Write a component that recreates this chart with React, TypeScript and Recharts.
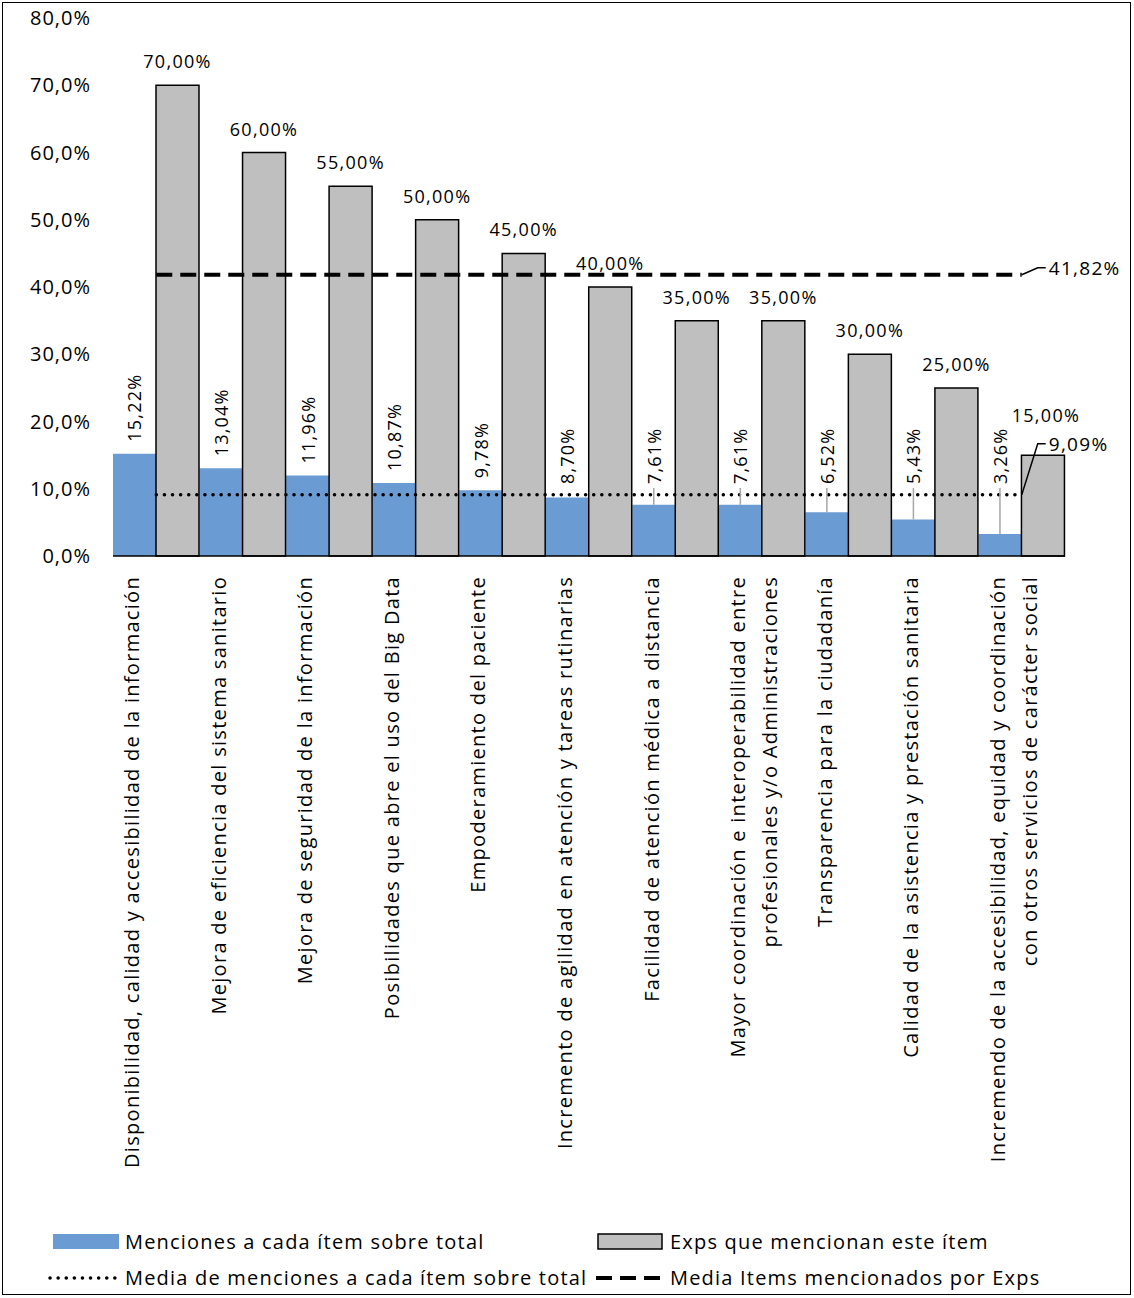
import { ComposedChart, Bar, Line, XAxis, YAxis, LabelList } from "recharts";

const categories: string[][] = [
  ["Disponibilidad, calidad  y accesibilidad de la información"],
  ["Mejora de eficiencia del sistema sanitario"],
  ["Mejora de seguridad de la información"],
  ["Posibilidades que abre el uso del Big Data"],
  ["Empoderamiento del paciente"],
  ["Incremento de  agilidad en atención y tareas rutinarias"],
  ["Facilidad de atención médica a distancia"],
  ["Mayor coordinación e interoperabilidad entre", "profesionales y/o Administraciones"],
  ["Transparencia para la ciudadanía"],
  ["Calidad de la asistencia y prestación sanitaria"],
  ["Incremendo de la accesibilidad, equidad y coordinación", "con otros servicios de carácter social"],
];
const menciones = [15.22, 13.04, 11.96, 10.87, 9.78, 8.7, 7.61, 7.61, 6.52, 5.43, 3.26];
const exps = [70, 60, 55, 50, 45, 40, 35, 35, 30, 25, 15];
const mediaMenciones = 9.09;
const mediaExps = 41.82;
const yTicks = [0, 10, 20, 30, 40, 50, 60, 70, 80];

const data = categories.map((c, i) => ({
  name: c.join(" "),
  idx: i,
  menciones: menciones[i],
  exps: exps[i],
  mediaMenciones,
  mediaExps,
}));

const FONT = "'Open Sans', 'Noto Sans', sans-serif";
const fmt = (v: number, d: number) => v.toFixed(d).replace(".", ",");

const CatTick = (props: any) => {
  const { x, y, payload } = props;
  const lines = categories[payload.index] ?? [payload.value];
  const lh = 32;
  const x0 = x - 17;
  return (
    <text transform={`rotate(-90, ${x0}, ${y + 12})`} x={x0} y={y + 12} textAnchor="end" fontSize={20} letterSpacing={1.3} fontFamily={FONT} fill="#000">
      {lines.map((l, i) => (
        <tspan key={i} x={x0} dy={i === 0 ? 0 : lh}>{l}</tspan>
      ))}
    </text>
  );
};

const MencionLabel = (props: any) => {
  const { x, width, y, value } = props;
  const cx = x + width / 2 + 7;
  const bottom = Math.min(y - 12, 484);
  return (
    <g>
      {y - bottom > 16 && <line x1={cx - 7} x2={cx - 7} y1={bottom + 4} y2={y} stroke="#a6a6a6" strokeWidth={1.5} />}
      <text transform={`rotate(-90, ${cx}, ${bottom})`} x={cx} y={bottom} textAnchor="start" fontSize={18} letterSpacing={1.2} fontFamily={FONT}>
        {fmt(value, 2)}%
      </text>
    </g>
  );
};

const ExpLabel = (props: any) => {
  const { x, width, y, value, index } = props;
  const last = index === categories.length - 1;
  return (
    <text x={x + width / 2 + (last ? 3 : 0)} y={y - (last ? 33 : 17)} textAnchor="middle" fontSize={18} letterSpacing={1.3} fontFamily={FONT}>
      {fmt(value, 2)}%
    </text>
  );
};

const endLabel = (dy: number, text: string) => (props: any) => {
  const { x, y, index } = props;
  if (index !== categories.length - 1) return null;
  return (
    <g>
      <polyline points={`${x},${y} ${x + 16},${y + dy} ${x + 24},${y + dy}`} fill="none" stroke="#000" strokeWidth={1.5} />
      <text x={x + 27} y={y + dy + 7} fontSize={19} letterSpacing={1.3} fontFamily={FONT}>{text}</text>
    </g>
  );
};

export default function App() {
  return (
    <div style={{ position: "absolute", left: 0, top: 0, width: 1134, height: 1298 }}>
      <div style={{ position: "absolute", left: 2, top: 2, width: 1127, height: 1291, border: "1.5px solid #000" }} />
      <ComposedChart width={1134} height={1298} data={data} margin={{ top: 18, right: 69, left: 13, bottom: 12 }} barGap={0} barCategoryGap={0}>
        <XAxis dataKey="name" interval={0} height={730} tick={<CatTick />} tickLine={false} axisLine={{ stroke: "#000", strokeWidth: 1.5 }} />
        <YAxis width={100} domain={[0, 80]} ticks={yTicks} tickFormatter={(v: number) => `${fmt(v, 1)}%`} axisLine={false} tickLine={false}
          tick={{ fontSize: 20, fontFamily: FONT, fill: "#000", letterSpacing: 1, dx: -14 }} />
        <Bar dataKey="menciones" fill="#6a9bd3" isAnimationActive={false}>
          <LabelList dataKey="menciones" content={<MencionLabel />} />
        </Bar>
        <Bar dataKey="exps" fill="#bfbfbf" stroke="#000" strokeWidth={1.5} isAnimationActive={false}>
          <LabelList dataKey="exps" content={<ExpLabel />} />
        </Bar>
        <Line dataKey="mediaExps" stroke="#000" strokeWidth={4} strokeDasharray="16 8" dot={false} isAnimationActive={false}
          label={endLabel(-7, "41,82%")} />
        <Line dataKey="mediaMenciones" stroke="#000" strokeWidth={3.5} strokeDasharray="0.1 8" strokeLinecap="round" dot={false} isAnimationActive={false}
          label={endLabel(-51, "9,09%")} />
      </ComposedChart>
      <svg width={1134} height={1298} style={{ position: "absolute", left: 0, top: 0 }}>
        <rect x={53} y={1234} width={66} height={15} fill="#6a9bd3" />
        <rect x={598} y={1234} width={64} height={15} fill="#bfbfbf" stroke="#000" strokeWidth={1.5} />
        <line x1={50} x2={118} y1={1278} y2={1278} stroke="#000" strokeWidth={3.5} strokeDasharray="0.1 8" strokeLinecap="round" />
        <line x1={596} x2={664} y1={1278} y2={1278} stroke="#000" strokeWidth={4} strokeDasharray="16 8" />
        <g fontSize={20} fontFamily={FONT} letterSpacing={1.2}>
          <text x={125} y={1249}>Menciones a cada ítem sobre total</text>
          <text x={670} y={1249}>Exps que mencionan este ítem</text>
          <text x={125} y={1285}>Media de menciones a cada ítem sobre total</text>
          <text x={670} y={1285}>Media Items mencionados por Exps</text>
        </g>
      </svg>
    </div>
  );
}
